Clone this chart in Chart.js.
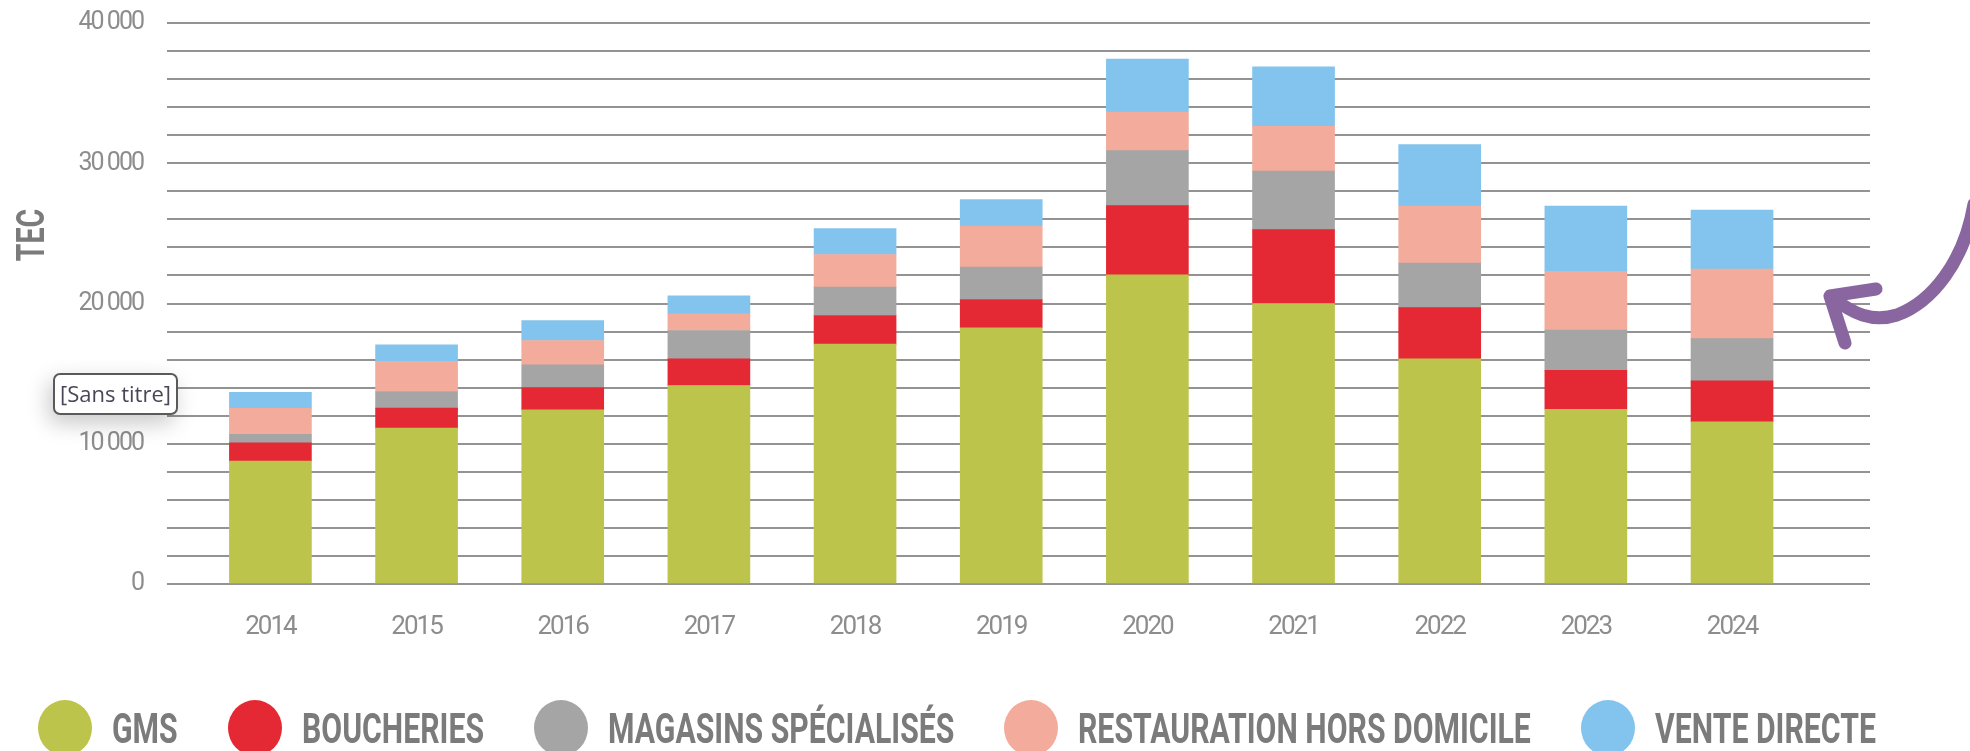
<!DOCTYPE html>
<html>
<head>
<meta charset="utf-8">
<script src="https://cdn.jsdelivr.net/npm/chart.js@4.4.1/dist/chart.umd.min.js"></script>
<style>
  body { margin: 0; background: #fff; }
  #wrap { position: relative; width: 1970px; height: 751px; overflow: hidden; }
  #legend { position: absolute; left: 38px; top: 700px; display: flex; align-items: center; }
  .item { display: flex; align-items: center; margin-right: 50px; }
  .dot { width: 54px; height: 56px; border-radius: 50%; margin-right: 20px; }
  .lbl { display: inline-block; overflow: visible; white-space: nowrap; }
  .lbl span { display: inline-block; transform-origin: left center; transform: scaleX(0.72);
    font: bold 42px "Roboto", sans-serif; color: #7b7b7b; }
  #untitled { position: absolute; left: 53px; top: 373px; width: 121px; height: 38px; border: 2px solid #5a5a5a;
    border-radius: 7px; background: #fff; box-shadow: -4px 8px 22px rgba(0,0,0,0.22);
    font: 22px "Open Sans", "Noto Sans", sans-serif; color: #4a4658; text-align: center; line-height: 37px; }
  #arrow { position: absolute; left: 0; top: 0; }
</style>
</head>
<body>
<div id="wrap">
  <canvas id="tecChart" width="1970" height="751"></canvas>
  <div id="untitled">[Sans titre]</div>
  <svg id="arrow" width="1970" height="751">
    <path d="M1974,204 C1964,262 1932,302 1897,315 C1872,323 1852,313 1833,298" fill="none" stroke="#8a66a0" stroke-width="13" stroke-linecap="round"/>
    <path d="M1876,289 L1830,296 L1845,343" fill="none" stroke="#8a66a0" stroke-width="13" stroke-linecap="round" stroke-linejoin="round"/>
  </svg>
  <div id="legend"></div>
</div>
<script>
const years = [2014, 2015, 2016, 2017, 2018, 2019, 2020, 2021, 2022, 2023, 2024];
const gms          = [8760, 11110, 12420, 14155, 17100, 18260, 22040, 20000, 16050, 12450, 11560];
const boucheries   = [1310, 1425, 1590, 1900, 2045, 2025, 4940, 5270, 3660, 2780, 2920];
const magasins     = [610, 1190, 1620, 2020, 2020, 2320, 3920, 4180, 3180, 2870, 3020];
const restauration = [1850, 2160, 1730, 1190, 2330, 2920, 2750, 3190, 4060, 4200, 4960];
const venteDirecte = [1140, 1170, 1430, 1280, 1850, 1880, 3780, 4230, 4380, 4650, 4200];

const seriesNames  = ['GMS', 'BOUCHERIES', 'MAGASINS SPÉCIALISÉS', 'RESTAURATION HORS DOMICILE', 'VENTE DIRECTE'];
const seriesValues = [gms, boucheries, magasins, restauration, venteDirecte];
const seriesColors = ['#bdc44b', '#e42935', '#a5a5a5', '#f3ab9c', '#82c4ed'];
const yLabelTicks  = [0, 10000, 20000, 30000, 40000];
const yGridStep    = 2000;
const yMax         = 40000;
const yAxisTitle   = 'TEC';

const font = '"Roboto", sans-serif';

function fmt(v) {
  return String(v).replace(/\B(?=(\d{3})+(?!\d))/g, ' ');
}

// tighter text, the original uses a condensed face
const tightText = {
  id: 'tightText',
  beforeDraw(chart) { chart.ctx.letterSpacing = '-2px'; },
  afterDraw(chart) {
    const { ctx, chartArea } = chart;
    ctx.letterSpacing = '0px';
    ctx.save();
    ctx.translate(chartArea.left - 133, chartArea.top + (chartArea.bottom - chartArea.top) * 0.378);
    ctx.rotate(-Math.PI / 2);
    ctx.scale(0.75, 1);
    ctx.font = 'bold 38px ' + font;
    ctx.fillStyle = '#7b7b7b';
    ctx.textAlign = 'center';
    ctx.textBaseline = 'middle';
    ctx.fillText(yAxisTitle, 0, 0);
    ctx.restore();
  }
};

new Chart(document.getElementById('tecChart'), {
  type: 'bar',
  data: {
    datasets: seriesNames.map((name, i) => ({
      label: name,
      data: years.map((y, j) => ({ x: y, y: seriesValues[i][j] })),
      backgroundColor: seriesColors[i],
      borderWidth: 0,
      barThickness: 82
    }))
  },
  options: {
    responsive: false,
    animation: false,
    devicePixelRatio: 1,
    layout: { padding: { top: 23, right: 100, bottom: 0, left: 0 } },
    plugins: { legend: { display: false }, tooltip: { enabled: false } },
    scales: {
      x: {
        type: 'linear',
        stacked: true,
        offset: false,
        min: 2013.2925,
        max: 2024.944,
        grid: { display: false },
        border: { display: false },
        afterBuildTicks: s => { s.ticks = years.map(v => ({ value: v })); },
        afterFit: s => { s.height = 167; },
        ticks: {
          padding: 20,
          autoSkip: false,
          color: '#8d8d8d',
          font: { family: font, size: 26 },
          callback: v => String(v),
          maxRotation: 0
        }
      },
      y: {
        stacked: true,
        min: 0,
        max: yMax,
        afterBuildTicks: s => {
          s.ticks = [];
          for (let v = 0; v <= yMax; v += yGridStep) s.ticks.push({ value: v });
        },
        afterFit: s => { s.width = 167; },
        border: { display: false },
        grid: { color: '#939393', lineWidth: 2, drawTicks: true, tickLength: 24, tickColor: 'rgba(0,0,0,0)' },
        ticks: {
          padding: 0,
          autoSkip: false,
          color: '#8d8d8d',
          font: { family: font, size: 25 },
          callback: v => yLabelTicks.includes(v) ? fmt(v) : ''
        }
      }
    }
  },
  plugins: [tightText]
});

const legend = document.getElementById('legend');
seriesNames.forEach((name, i) => {
  const item = document.createElement('div');
  item.className = 'item';
  const dot = document.createElement('div');
  dot.className = 'dot';
  dot.style.background = seriesColors[i];
  const lbl = document.createElement('div');
  lbl.className = 'lbl';
  const txt = document.createElement('span');
  txt.textContent = name;
  lbl.appendChild(txt);
  item.appendChild(dot);
  item.appendChild(lbl);
  legend.appendChild(item);
  lbl.style.width = txt.getBoundingClientRect().width + 'px';
});
</script>
</body>
</html>
